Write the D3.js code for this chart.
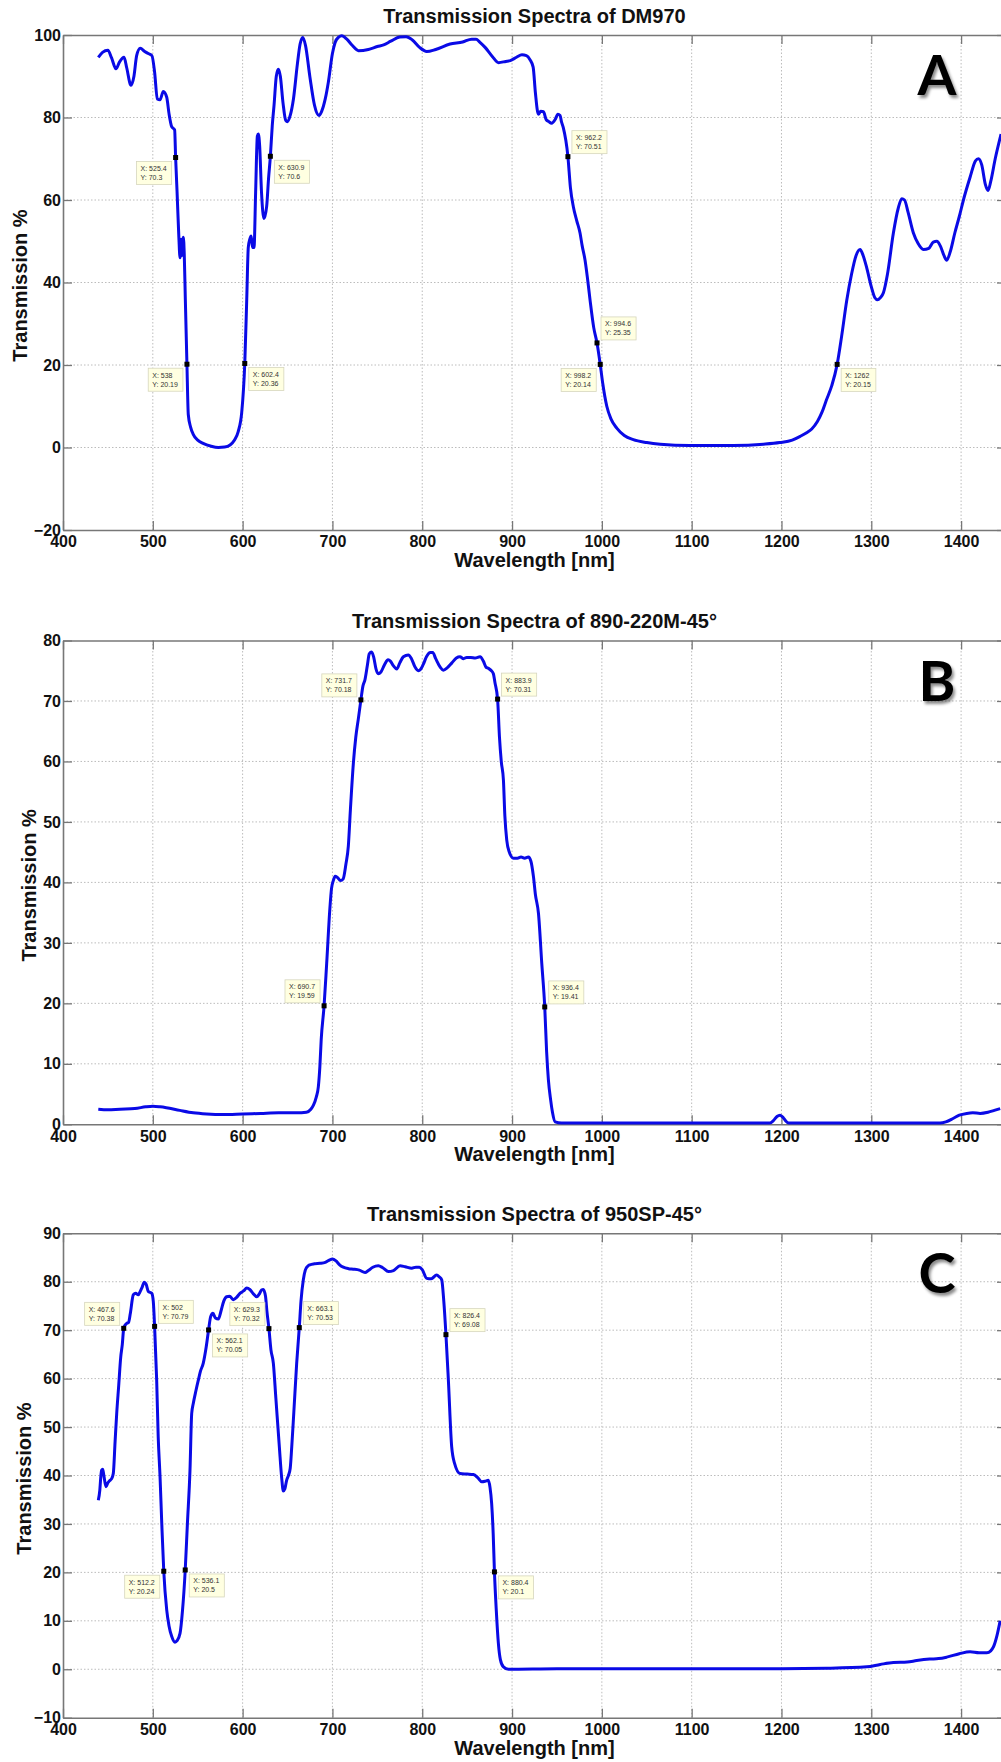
<!DOCTYPE html>
<html>
<head>
<meta charset="utf-8">
<script src="https://cdn.jsdelivr.net/npm/d3@7"></script>
<style>
  body { margin: 0; background: #fff; }
  svg { display: block; }
  text { font-family: "Liberation Sans", Arial, sans-serif; }
</style>
</head>
<body>
<svg id="chart" width="1001" height="1762"></svg>
<script>
(function () {
  'use strict';

  // ---- data ----
  var xTicks = [400, 500, 600, 700, 800, 900, 1000, 1100, 1200, 1300, 1400];

  // A: DM970
  var wlA = [439.3, 444, 450, 454, 459, 463, 468, 471, 475.7, 479, 482, 486, 491, 495, 499, 502, 505, 508, 511.7, 515.5,
    518, 521, 524.3, 525.4, 527, 529, 530.3, 531.5, 532.5, 534, 535, 536.2, 538, 539.5, 542, 545, 550, 556, 565, 573,
    580, 586, 591, 595, 599, 602.4, 604.6, 606.3, 608, 609.5, 611, 612.7, 614.5, 616.4, 617.5, 619, 621, 623.8, 626.8, 628.8,
    630.9, 633, 635, 637.5, 639.8, 642, 645, 648, 650, 653, 656.6, 661, 664, 667, 670, 675, 680, 685, 688, 692,
    695.4, 700, 703, 707, 710.3, 716, 722, 729, 740, 750, 757, 765, 775, 782, 789, 797, 805, 815, 831, 845,
    855, 860, 864, 870, 878, 885, 893, 898, 905, 911, 916, 920, 923.5, 926, 929.3, 932, 935, 938, 941, 944,
    948, 951, 953.5, 955, 957, 962.2, 965, 968.3, 972, 975.7, 978, 981.3, 984, 987, 991, 994.6, 998.2, 1001, 1005.5, 1010,
    1016.6, 1025, 1035, 1050, 1065, 1098, 1146, 1180, 1198, 1212, 1220.7, 1228, 1233.7, 1240, 1245, 1250, 1256, 1262, 1267, 1272.7,
    1278, 1283, 1287.5, 1291, 1295, 1300, 1304, 1307, 1310, 1313.5, 1318, 1324.6, 1330, 1334, 1337, 1341, 1346.9, 1352, 1358, 1364,
    1369, 1373, 1377, 1381, 1384, 1388, 1393, 1398, 1402.6, 1410, 1416, 1419.3, 1423, 1427, 1430, 1433, 1438, 1444.5];
  var tA = [94.6, 95.8, 96.3, 94.5, 91.8, 93.5, 94.6, 92, 87.8, 90, 95, 96.8, 96, 95.5, 95, 91, 84.5, 84.3, 86.3, 84.9,
    81, 77.8, 77, 70.3, 62, 51, 46, 50.5, 46.5, 51, 47, 36, 20.19, 8, 5, 3.2, 1.8, 1, 0.3, 0,
    0.1, 0.6, 1.8, 3.8, 8.5, 20.36, 36, 48.5, 50.5, 51.3, 48.5, 48.5, 62, 75.5, 76, 73, 62, 55.5, 58.5, 65,
    70.6, 78, 83, 90, 91.7, 90, 83.5, 79.3, 79, 80.5, 84.5, 93, 97.8, 99.4, 97.5, 89.7, 83, 80.5, 81.5, 84.5,
    88.5, 95.5, 98.2, 99.5, 99.8, 99, 97.5, 96.2, 96.5, 97.2, 97.6, 98.5, 99.5, 99.6, 98.8, 97, 96, 96.5, 97.8, 98.3,
    99, 99, 98.3, 97, 94.8, 93.3, 93.6, 93.8, 94.6, 95.2, 95, 94, 92.2, 86, 80.8, 81.5, 81.4, 79.5, 79, 78.6,
    79.5, 80.8, 80.5, 79, 77.6, 70.51, 63, 58.3, 55, 52, 49, 45.4, 41, 35.5, 29, 25.35, 20.14, 15.5, 10, 7,
    4.7, 2.9, 1.9, 1.2, 0.8, 0.5, 0.5, 0.8, 1.2, 1.8, 2.7, 3.6, 4.5, 6.3, 8.5, 11.5, 15, 20.15, 27, 35.7,
    42, 46.5, 48, 46.5, 43.5, 39, 36.3, 35.8, 36.3, 37.5, 42, 52, 58, 60.3, 60, 57, 52, 49.5, 48, 48.3,
    49.8, 50, 48.8, 46.5, 45.4, 47.5, 52, 56, 60, 65.5, 69.5, 70, 68.5, 63.8, 62.3, 64.5, 70, 76];

  // B: 890-220M-45°
  var wlB = [439.3, 450, 463.5, 480, 492, 500, 508, 515, 530, 545, 560, 578, 600, 620, 640, 660, 671, 676, 679, 682,
    684.3, 686, 687.5, 690.7, 693.6, 697.3, 699, 701, 703, 705, 709, 712, 715, 717.7, 720, 723.3, 726, 728.8, 731.7, 734,
    736.2, 739, 741, 743.7, 746, 748.5, 751, 754, 758, 762, 764.5, 768, 771.6, 775, 779, 784.5, 788, 792, 795.6, 798,
    801, 805, 809, 811.7, 815, 820, 823.5, 828, 833, 838, 842, 846, 849.5, 854, 859, 864.4, 868, 871, 873.6, 877,
    879.2, 881, 883.9, 886, 888, 890.4, 892, 894.1, 897, 901.6, 906, 910, 914, 918.2, 921, 923.8, 926, 929.4, 933.1, 936.4,
    938.5, 940.5, 943, 945, 948, 955, 1000, 1100, 1187, 1191, 1195, 1198.4, 1202, 1205, 1208, 1300, 1376.6, 1383, 1391.5, 1398,
    1406.3, 1413, 1421.2, 1430, 1437, 1443.5];
  var tB = [2.5, 2.4, 2.5, 2.6, 2.9, 3.0, 2.9, 2.75, 2.3, 1.9, 1.7, 1.6, 1.7, 1.8, 1.9, 1.9, 2.0, 2.5, 3.2, 4.5,
    6.2, 9.5, 14, 19.59, 26.6, 36, 39, 40.3, 41, 40.9, 40.3, 40.6, 43, 46, 52, 59.7, 64, 67, 70.18, 72.5,
    73.5, 76, 77.8, 78.1, 77.2, 75.3, 74.5, 74.8, 76, 76.8, 76.6, 75.8, 75.3, 76.3, 77.3, 77.6, 77, 75.6, 75, 75.2,
    76, 77.4, 78, 78, 77, 75.6, 75.1, 75.5, 76.3, 77.1, 77.3, 77.0, 77.2, 77.2, 77.1, 77.3, 76.6, 75.6, 75.4, 75,
    74.5, 73, 70.31, 64, 60, 56.9, 51, 47, 45, 44, 44, 44.2, 44, 44.2, 43.5, 41, 38, 34.9, 26.6, 19.41,
    12, 7.3, 4, 2, 0.4, 0.2, 0.2, 0.2, 0.2, 0.6, 1.3, 1.5, 1.1, 0.5, 0.2, 0.2, 0.2, 0.4, 1.0, 1.5,
    1.8, 1.9, 1.8, 2.0, 2.3, 2.6];

  // C: 950SP-45°
  var wlC = [439.3, 441, 442, 443, 444.2, 445.5, 447.9, 450, 452.3, 454, 456, 458, 459.8, 462, 464.3, 466, 467.6, 469, 470.9, 473,
    475, 478.3, 481, 483.8, 486, 488, 490.5, 492.5, 495, 498.8, 500.5, 502, 504.3, 506, 508, 510, 512.2, 515.5, 518, 521,
    524.7, 527, 530.3, 533, 536.1, 538.5, 541.4, 543.3, 545.1, 548, 550.7, 553, 556.2, 559, 562.1, 564.4, 567, 569.7, 573, 576,
    579, 582.2, 585.5, 589.6, 593, 597, 601, 604.6, 608, 612, 615.7, 619, 621, 623, 625.5, 627, 629.3, 631.5, 634.2, 637,
    640.9, 643.5, 645.3, 647, 649, 651, 653, 654.7, 657, 660.2, 663.1, 665, 667.6, 670, 673, 675, 680, 686.1, 692, 697,
    699.9, 704, 708, 712.1, 718, 723.3, 730, 736.3, 740, 745, 751.1, 756, 762.3, 768, 775.3, 781, 788.3, 793, 796.8, 800,
    805, 810, 816.1, 819, 821.7, 824, 826.4, 829.1, 832.8, 836, 842.1, 850, 857, 862, 866.3, 870, 873.6, 875.5, 877.3, 879,
    880.4, 882.5, 884.8, 887, 890.4, 896, 950, 1000, 1100, 1200, 1250, 1295, 1310, 1324.6, 1340, 1350.6, 1365, 1375, 1384, 1398,
    1410, 1420, 1428.6, 1433, 1436, 1440, 1443.5];
  var tC = [34.9, 37, 39.5, 41.1, 41.3, 40, 37.7, 38.5, 39, 39.3, 40.4, 47, 52.8, 58.5, 64.5, 67, 70.38, 71, 71.4, 71.6,
    73.5, 77.3, 77.6, 77.3, 78, 78.8, 79.9, 79.5, 78, 77.6, 76, 70.79, 59.7, 48, 40, 30, 20.24, 12.2, 9, 6.8,
    5.6, 5.9, 7.4, 12, 20.5, 30, 41.1, 52.8, 54.9, 57.5, 59.7, 61.5, 63.2, 66, 70.05, 72.8, 73.5, 72.5, 72.3, 74,
    76, 76.9, 77, 76.3, 76.7, 77.6, 78.1, 78.7, 78.4, 77.5, 76.9, 77.6, 78.3, 78.4, 77, 74, 70.32, 66, 63.2, 56,
    45.9, 39.5, 36.8, 37.2, 39, 40, 41.5, 45.9, 53, 63.2, 70.53, 76, 80.4, 82.5, 83.3, 83.5, 83.7, 83.8, 84, 84.5,
    84.7, 84.3, 83.5, 83, 82.7, 82.6, 82.4, 81.9, 82.3, 83, 83.3, 82.9, 82.1, 82.3, 83.3, 83.1, 82.8, 83, 83, 82.5,
    80.7, 80.6, 81.4, 81, 80.4, 76, 69.08, 59.7, 45.9, 42.5, 40.4, 40.3, 40.2, 39.5, 38.7, 38.8, 39, 37.5, 34.2, 28,
    20.1, 12, 5.3, 2, 0.5, 0, 0.1, 0.1, 0.1, 0.1, 0.2, 0.5, 1, 1.4, 1.5, 1.8, 2.1, 2.2, 2.5, 3.2,
    3.6, 3.4, 3.4, 3.8, 4.6, 7, 10];

  // data tips (x, y, box side)
  var tipXA = [525.4, 630.9, 538, 602.4, 962.2, 994.6, 998.2, 1262];
  var tipYA = [70.3, 70.6, 20.19, 20.36, 70.51, 25.35, 20.14, 20.15];
  var tipPosA = ['ll', 'lr', 'll', 'lr', 'ur', 'ur', 'll', 'lr'];

  var tipXB = [731.7, 883.9, 690.7, 936.4];
  var tipYB = [70.18, 70.31, 19.59, 19.41];
  var tipPosB = ['ul', 'ur', 'ul', 'ur'];

  var tipXC = [467.6, 502, 562.1, 629.3, 663.1, 826.4, 512.2, 536.1, 880.4];
  var tipYC = [70.38, 70.79, 70.05, 70.32, 70.53, 69.08, 20.24, 20.5, 20.1];
  var tipPosC = ['ul', 'ur', 'lr', 'ul', 'ur', 'ur', 'll', 'lr', 'lr'];

  var yTicksA = [-20, 0, 20, 40, 60, 80, 100];
  var yTicksB = [0, 10, 20, 30, 40, 50, 60, 70, 80];
  var yTicksC = [-10, 0, 10, 20, 30, 40, 50, 60, 70, 80, 90];

  var titles = ['Transmission Spectra of DM970', 'Transmission Spectra of 890-220M-45°', 'Transmission Spectra of 950SP-45°'];
  var letters = ['A', 'B', 'C'];

  function zip(xs, ys) {
    return xs.map(function (v, i) { return [v, ys[i]]; });
  }

  var panels = [
    { top: 35, bottom: 530, yTicks: yTicksA, curve: zip(wlA, tA), tips: zip(tipXA, tipYA), pos: tipPosA, ylabX: 27 },
    { top: 640.5, bottom: 1124.3, yTicks: yTicksB, curve: zip(wlB, tB), tips: zip(tipXB, tipYB), pos: tipPosB, ylabX: 36 },
    { top: 1233.3, bottom: 1717.7, yTicks: yTicksC, curve: zip(wlC, tC), tips: zip(tipXC, tipYC), pos: tipPosC, ylabX: 31 }
  ];

  var svg = d3.select('#chart');
  var defs = svg.append('defs');
  defs.append('filter')
    .attr('id', 'shadow')
    .attr('x', '-30%').attr('y', '-30%').attr('width', '160%').attr('height', '160%')
    .append('feDropShadow')
    .attr('dx', 2).attr('dy', 3)
    .attr('stdDeviation', 1.8)
    .attr('flood-color', '#000')
    .attr('flood-opacity', 0.45);

  var x = d3.scaleLinear().domain([400, 1450]).range([63, 1006]);
  var boxColor = '#777';
  var gridColor = '#bcbcbc';
  var fmt = d3.format('d');

  panels.forEach(function (p, idx) {
    var y = d3.scaleLinear().domain(d3.extent(p.yTicks)).range([p.bottom, p.top]);
    var g = svg.append('g').attr('class', 'panel');

    // grid
    g.selectAll('.vgrid')
      .data(xTicks.slice(1))
      .enter().append('line')
      .attr('x1', x).attr('x2', x)
      .attr('y1', p.top).attr('y2', p.bottom)
      .attr('stroke', gridColor).attr('stroke-width', 1)
      .attr('stroke-dasharray', '1.5,2');
    g.selectAll('.hgrid')
      .data(p.yTicks.slice(1, -1))
      .enter().append('line')
      .attr('x1', x.range()[0]).attr('x2', x.range()[1])
      .attr('y1', y).attr('y2', y)
      .attr('stroke', gridColor).attr('stroke-width', 1)
      .attr('stroke-dasharray', '1.5,2');

    // axes (ticks pointing inward on all four sides)
    var axB = g.append('g').attr('transform', 'translate(0,' + p.bottom + ')')
      .call(d3.axisBottom(x).tickValues(xTicks).tickFormat(fmt).tickSize(-9).tickSizeOuter(0).tickPadding(6));
    var axT = g.append('g').attr('transform', 'translate(0,' + p.top + ')')
      .call(d3.axisTop(x).tickValues(xTicks).tickSize(-9).tickSizeOuter(0).tickFormat(''));
    var axL = g.append('g').attr('transform', 'translate(' + x.range()[0] + ',0)')
      .call(d3.axisLeft(y).tickValues(p.yTicks).tickFormat(fmt).tickSize(-9).tickSizeOuter(0).tickPadding(2));
    var axR = g.append('g').attr('transform', 'translate(' + x.range()[1] + ',0)')
      .call(d3.axisRight(y).tickValues(p.yTicks).tickSize(-9).tickSizeOuter(0).tickFormat(''));

    [axB, axT, axL, axR].forEach(function (a) {
      a.select('.domain').attr('stroke', boxColor).attr('stroke-width', 1.6);
      a.selectAll('.tick line').attr('stroke', boxColor).attr('stroke-width', 1.3);
      a.selectAll('.tick text')
        .attr('fill', '#111')
        .style('font-family', '"Liberation Sans", Arial, sans-serif')
        .style('font-size', '16px')
        .style('font-weight', 'bold');
    });

    // curve
    var line = d3.line()
      .x(function (d) { return x(d[0]); })
      .y(function (d) { return y(d[1]); })
      .curve(d3.curveMonotoneX);
    g.append('path')
      .datum(p.curve)
      .attr('d', line)
      .attr('fill', 'none')
      .attr('stroke', '#0a0ae6')
      .attr('stroke-width', 3)
      .attr('stroke-linejoin', 'round');

    // data tips
    var tips = g.selectAll('.tip')
      .data(p.tips)
      .enter().append('g').attr('class', 'tip');
    tips.each(function (d, i) {
      var t = d3.select(this);
      var mx = x(d[0]), my = y(d[1]);
      var box = t.append('rect');
      var l1 = t.append('text').text('X: ' + d[0]);
      var l2 = t.append('text').text('Y: ' + d[1]);
      [l1, l2].forEach(function (s) {
        s.style('font-size', '7px').attr('fill', '#333');
      });
      var w = Math.max(l1.node().getComputedTextLength(), l2.node().getComputedTextLength()) + 9;
      var h = 23;
      var pos = p.pos[i];
      var bx = pos.charAt(1) === 'l' ? mx - 4 - w : mx + 4;
      var by = pos.charAt(0) === 'u' ? my - 3 - h : my + 4;
      box.attr('x', bx).attr('y', by).attr('width', w).attr('height', h)
        .attr('fill', '#ffffe1').attr('stroke', '#d6d6bd').attr('stroke-width', 0.8);
      l1.attr('x', bx + 4).attr('y', by + 9.5);
      l2.attr('x', bx + 4).attr('y', by + 18.5);
      t.append('rect')
        .attr('x', mx - 2.5).attr('y', my - 2.5)
        .attr('width', 5).attr('height', 5)
        .attr('fill', '#000');
    });

    var cx = (x.range()[0] + x.range()[1]) / 2;

    // title
    g.append('text')
      .attr('x', cx).attr('y', p.top - 12.5)
      .attr('text-anchor', 'middle')
      .style('font-size', '20px').style('font-weight', 'bold')
      .attr('fill', '#111')
      .text(titles[idx]);

    // axis labels
    g.append('text')
      .attr('x', cx).attr('y', p.bottom + 37)
      .attr('text-anchor', 'middle')
      .style('font-size', '20px').style('font-weight', 'bold')
      .attr('fill', '#111')
      .text('Wavelength [nm]');
    g.append('text')
      .attr('transform', 'translate(' + p.ylabX + ',' + ((p.top + p.bottom) / 2 + 3) + ') rotate(-90)')
      .attr('text-anchor', 'middle')
      .style('font-size', '20px').style('font-weight', 'bold')
      .attr('fill', '#111')
      .text('Transmission %');

    // panel letter
    g.append('text')
      .attr('x', 937).attr('y', p.top + 60)
      .attr('text-anchor', 'middle')
      .style('font-family', 'Lato, "Open Sans", sans-serif')
      .style('font-size', '56px').style('font-weight', 'bold')
      .attr('fill', '#000')
      .attr('filter', 'url(#shadow)')
      .text(letters[idx]);
  });
})();
</script>
</body>
</html>
